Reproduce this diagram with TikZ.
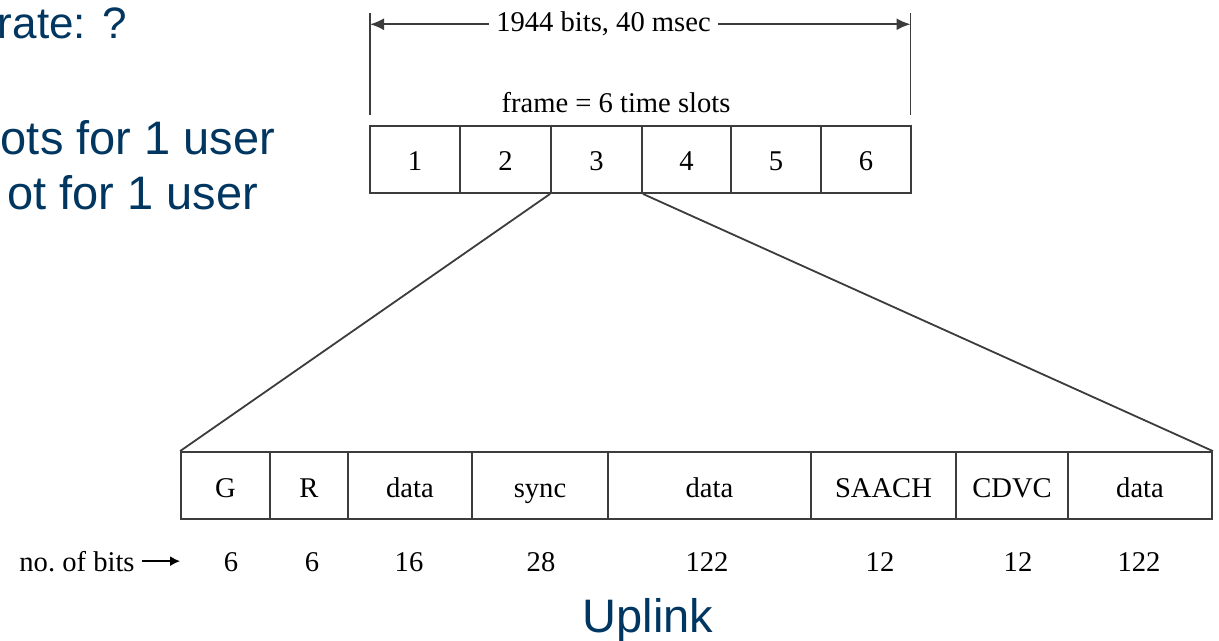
\documentclass[tikz,border=0pt]{standalone}
\usepackage{fontspec}
\setmainfont{Liberation Serif}
\newfontfamily\slidefont{Liberation Sans}
\usepackage{tikz}
\usetikzlibrary{arrows.meta}
\definecolor{slideblue}{RGB}{0,54,96}
\definecolor{framegray}{RGB}{60,60,60}

\tikzset{
  cell/.style={draw=framegray,line width=0.9pt,minimum width=#1*0.5pt,minimum height=33.5pt,
    inner sep=0pt,text height=11.5pt,text depth=0pt},
  bitlabel/.style={anchor=base},
  slidetext/.style={text=slideblue,inner sep=0pt,font=\slidefont\fontsize{23.5}{28}\selectfont}
}

\begin{document}
\begin{tikzpicture}
[x=0.5pt,y=-0.5pt,font=\fontsize{14.3}{17}\selectfont,>={Latex[length=7pt,width=6pt]},
 line width=0.9pt,draw=framegray]
\useasboundingbox (0,0) rectangle (1219,641);
% slide text, cut off at the left edge
\draw (-3,39) node[slidetext,anchor=base west,font=\slidefont\fontsize{22}{26}\selectfont] (rate) {rate: ?};
\draw (276,155) node[slidetext,anchor=base east] (slots) {ots for 1 user};
\draw (259,210) node[slidetext,anchor=base east] (slot) {ot for 1 user};
\draw (648,632) node[slidetext,anchor=base] (uplink) {Uplink};

% frame of 6 slots
\draw (415,159.5) node[cell=90] (s1) {1};
\draw (505.5,159.5) node[cell=91] (s2) {2};
\draw (596.5,159.5) node[cell=91] (s3) {3};
\draw (686.5,159.5) node[cell=89] (s4) {4};
\draw (776,159.5) node[cell=90] (s5) {5};
\draw (866,159.5) node[cell=90] (s6) {6};

% frame length
\coordinate (lt) at (370,13);
\coordinate (lb) at (370,115);
\coordinate (rt) at (910.5,13);
\coordinate (rb) at (910.5,115);
\draw (lt)--(lb);
\draw (rt)--(rb);
\draw (603.5,32) node[anchor=base] (span) {1944 bits, 40 msec};
\draw[->](span.west)--(span.west -| lt);
\draw[->](span.east)--(span.east -| rt);
\draw (616,113) node[anchor=base] (framelbl) {frame = 6 time slots};

% slot 3 blown up
\draw (225.5,485.5) node[cell=89] (g) {G};
\draw (309,485.5) node[cell=78] (r) {R};
\draw (410,485.5) node[cell=124] (d1) {data};
\draw (540,485.5) node[cell=136] (sync) {sync};
\draw (709.5,485.5) node[cell=203] (d2) {data};
\draw (883.5,485.5) node[cell=145] (saach) {SAACH};
\draw (1012,485.5) node[cell=112] (cdvc) {CDVC};
\draw (1140,485.5) node[cell=144] (d3) {data};
\draw (s3.south west)--(g.north west);
\draw (s3.south east)--(d3.north east);

% bit counts
\draw (77,571) node[anchor=base] (nob) {no.\ of bits};
\coordinate (tip) at (180,561);
\draw[-{Latex[length=5pt,width=5pt]},line width=0.7pt,draw=black](nob.east)--(nob.east -| tip);
\draw (231,571) node[bitlabel] (b1) {6};
\draw (312,571) node[bitlabel] (b2) {6};
\draw (409,571) node[bitlabel] (b3) {16};
\draw (541,571) node[bitlabel] (b4) {28};
\draw (707,571) node[bitlabel] (b5) {122};
\draw (880,571) node[bitlabel] (b6) {12};
\draw (1018,571) node[bitlabel] (b7) {12};
\draw (1139,571) node[bitlabel] (b8) {122};
\end{tikzpicture}
\end{document}
